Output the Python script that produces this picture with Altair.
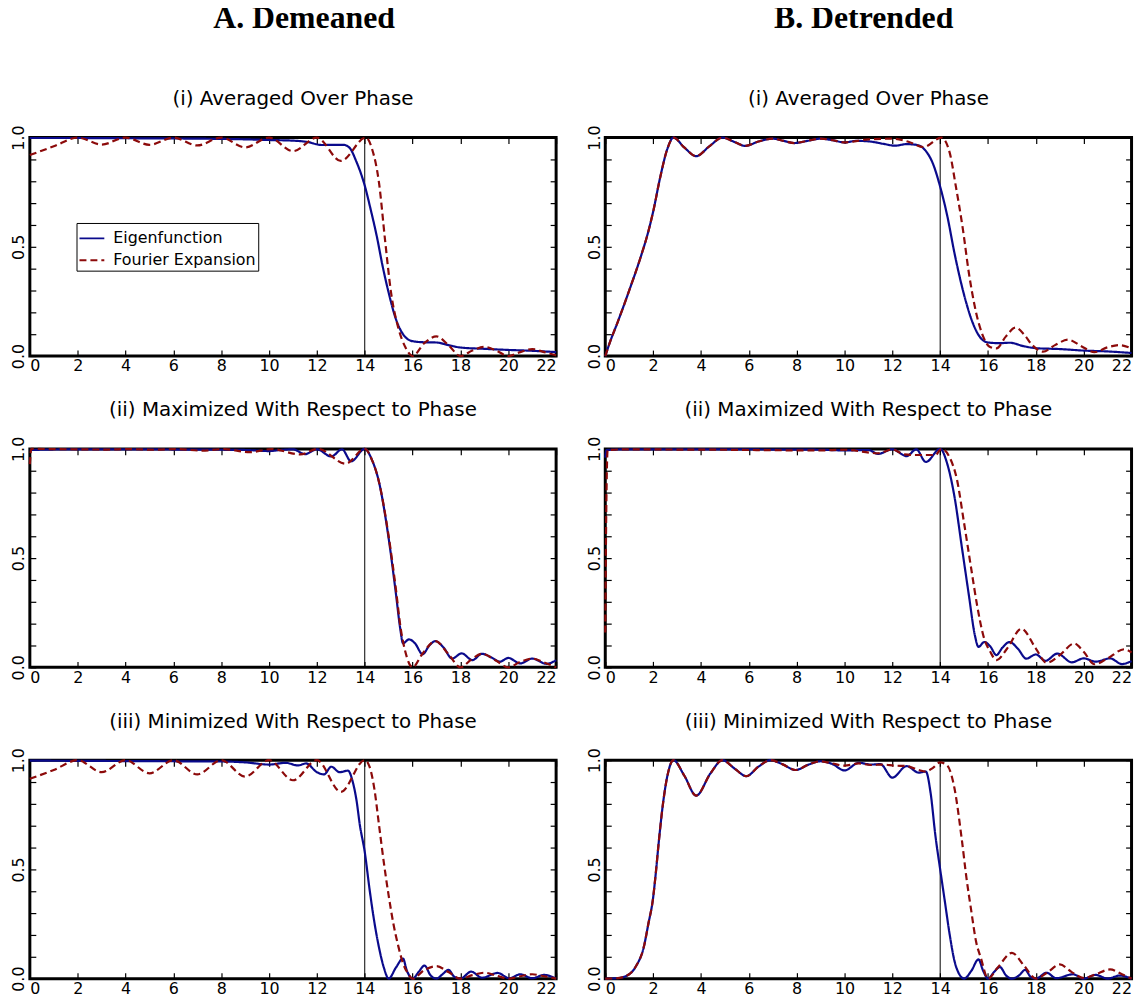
import altair as alt
import pandas as pd

# ---------------- data ----------------
SERIES = ["Eigenfunction", "Fourier Expansion"]
COLORS = ["#0a0a8c", "#8c0a0a"]
DASHES = [[1, 0], [7, 4]]
X_TICKS = list(range(0, 23, 2))
Y_LABELS = [0.0, 0.5, 1.0]
Y_TICKS = [0.0, 0.1, 0.2, 0.3, 0.4, 0.5, 0.6, 0.7, 0.8, 0.9, 1.0]
VLINE = [14]
COL_TITLES = ["A. Demeaned", "B. Detrended"]
ROW_TITLES = ["(i) Averaged Over Phase",
              "(ii) Maximized With Respect to Phase",
              "(iii) Minimized With Respect to Phase"]

# A (i)
A1_eig_x = [0, 2, 4, 6, 8, 9, 10, 11, 11.6, 12.2, 12.7, 13.1, 13.35, 13.65, 14, 14.25, 14.5, 14.75, 15, 15.3, 15.6, 16, 16.5, 17, 17.5, 18, 19, 20, 21, 22]
A1_eig_y = [0.998, 0.998, 0.997, 0.996, 0.994, 0.992, 0.989, 0.986, 0.98, 0.966, 0.967, 0.967, 0.955, 0.89, 0.78, 0.67, 0.55, 0.41, 0.29, 0.17, 0.10, 0.068, 0.063, 0.062, 0.05, 0.039, 0.033, 0.028, 0.024, 0.018]
A1_fou_x = [0, 1, 2, 3, 4, 5, 6, 7, 8, 9, 10, 11, 12, 13, 14.05, 14.3, 14.6, 14.85, 15.1, 15.4, 15.7, 16, 16.5, 17, 17.5, 18, 18.5, 19, 19.5, 20, 20.5, 21, 21.5, 22]
A1_fou_y = [0.92, 0.96, 1.0, 0.968, 1.0, 0.967, 1.0, 0.964, 1.0, 0.955, 1.0, 0.938, 1.0, 0.893, 1.0, 0.95, 0.79, 0.53, 0.29, 0.13, 0.04, 0.0, 0.06, 0.09, 0.05, 0.0, 0.025, 0.042, 0.025, 0.0, 0.018, 0.032, 0.018, 0.003]

# A (ii)
A2_eig_x = [0, 2, 4, 6, 8, 9, 10, 10.5, 11, 11.5, 12, 12.6, 13.05, 13.43, 14, 14.3, 14.57, 15.0, 15.3, 15.48, 15.6, 15.85, 16.1, 16.42, 16.7, 16.95, 17.3, 17.65, 18.05, 18.5, 18.9, 19.3, 19.65, 20.0, 20.5, 21.0, 21.6, 22]
A2_eig_y = [0.995, 0.998, 0.998, 0.997, 0.996, 0.995, 0.99, 0.995, 0.998, 0.976, 0.998, 0.965, 0.998, 0.943, 1.0, 0.95, 0.86, 0.59, 0.34, 0.18, 0.11, 0.128, 0.11, 0.06, 0.10, 0.12, 0.09, 0.04, 0.064, 0.033, 0.062, 0.045, 0.026, 0.043, 0.018, 0.04, 0.016, 0.033]
A2_fou_x = [0, 0.06, 1, 3.2, 4.1, 5.2, 6.1, 7.2, 8.1, 9.2, 10.1, 11.3, 12.05, 13.2, 14, 14.3, 14.57, 15.0, 15.3, 15.5, 15.7, 16, 16.4, 16.95, 17.5, 18, 18.45, 18.9, 19.5, 20, 20.5, 21.0, 21.5, 22]
A2_fou_y = [0.93, 1.0, 0.999, 0.997, 0.999, 0.996, 0.999, 0.992, 0.999, 0.985, 0.999, 0.975, 1.0, 0.932, 1.0, 0.95, 0.86, 0.6, 0.36, 0.18, 0.07, 0.0, 0.06, 0.12, 0.06, 0.0, 0.035, 0.062, 0.03, 0.0, 0.025, 0.04, 0.022, 0.0]

# A (iii)
A3_eig_x = [0, 2, 4, 6, 8, 9, 10, 10.7, 11.2, 11.55, 12.0, 12.3, 12.6, 12.95, 13.3, 13.5, 13.65, 13.8, 14.0, 14.2, 14.4, 14.6, 14.8, 15.0, 15.3, 15.6, 15.75, 16.0, 16.25, 16.5, 16.75, 17.0, 17.25, 17.5, 17.75, 18.0, 18.45, 18.9, 19.55, 20.05, 20.5, 21.0, 21.5, 22]
A3_eig_y = [0.998, 0.997, 0.996, 0.995, 0.994, 0.99, 0.98, 0.988, 0.976, 0.985, 0.945, 0.935, 0.97, 0.945, 0.952, 0.9, 0.82, 0.7, 0.58, 0.41, 0.26, 0.14, 0.05, 0.0, 0.05, 0.092, 0.04, 0.0, 0.03, 0.06, 0.015, 0.0, 0.02, 0.04, 0.008, 0.0, 0.032, 0.004, 0.026, 0.002, 0.02, 0.002, 0.017, 0.0]
A3_fou_x = [0, 1, 2, 3, 4, 5, 6, 7, 8, 9, 10, 11, 12, 13, 14.0, 14.2, 14.4, 14.6, 14.8, 15.0, 15.2, 15.4, 15.6, 15.8, 16, 16.5, 17, 17.5, 18, 18.5, 19, 19.5, 20, 20.5, 21, 21.5, 22]
A3_fou_y = [0.915, 0.955, 1.0, 0.945, 1.0, 0.94, 1.0, 0.935, 1.0, 0.925, 1.0, 0.908, 1.0, 0.855, 1.0, 0.97, 0.87, 0.7, 0.53, 0.38, 0.25, 0.15, 0.07, 0.025, 0.0, 0.04, 0.057, 0.03, 0.0, 0.016, 0.027, 0.014, 0.0, 0.011, 0.02, 0.011, 0.0]

# B (i)
B1_eig_x = [0, 0.2, 0.5, 1.0, 1.5, 1.8, 2.0, 2.3, 2.6, 2.85, 3.3, 3.8, 4.35, 4.9, 5.4, 5.85, 6.4, 7.0, 7.45, 7.9, 8.45, 9.0, 9.5, 10.0, 10.5, 11.0, 11.6, 12.1, 12.6, 13.0, 13.35, 13.7, 14.0, 14.3, 14.6, 15.0, 15.3, 15.6, 16.0, 16.5, 16.9, 17.5, 18.0, 19.0, 20.0, 21.0, 22.0]
B1_eig_y = [0.0, 0.065, 0.15, 0.3, 0.46, 0.57, 0.66, 0.82, 0.95, 1.0, 0.955, 0.915, 0.96, 1.0, 0.98, 0.962, 0.982, 0.995, 0.985, 0.975, 0.985, 0.995, 0.988, 0.978, 0.985, 0.983, 0.972, 0.963, 0.97, 0.967, 0.945, 0.88, 0.775, 0.64, 0.47, 0.28, 0.17, 0.097, 0.062, 0.059, 0.061, 0.045, 0.036, 0.032, 0.025, 0.021, 0.014]
B1_fou_x = [0, 0.2, 0.5, 1.0, 1.5, 1.8, 2.0, 2.3, 2.6, 2.85, 3.3, 3.8, 4.35, 4.9, 5.4, 5.85, 6.4, 7.0, 7.45, 7.9, 8.45, 9.0, 9.5, 10.0, 11.0, 12.0, 12.7, 13.3, 14.05, 14.4, 14.65, 14.95, 15.2, 15.5, 15.77, 16.05, 16.35, 16.75, 17.15, 17.5, 17.85, 18.3, 18.8, 19.35, 19.9, 20.45, 21.0, 21.5, 22.0]
B1_fou_y = [0.0, 0.065, 0.15, 0.3, 0.46, 0.57, 0.66, 0.82, 0.95, 1.0, 0.955, 0.915, 0.96, 1.0, 0.98, 0.962, 0.982, 0.995, 0.985, 0.975, 0.985, 0.995, 0.988, 0.978, 0.992, 0.995, 0.98, 0.957, 1.0, 0.93, 0.78, 0.58, 0.38, 0.2, 0.097, 0.044, 0.035, 0.09, 0.13, 0.1, 0.05, 0.02, 0.05, 0.075, 0.045, 0.018, 0.04, 0.05, 0.035]

# B (ii)
B2_eig_x = [0, 0.05, 1, 3, 5, 7, 9, 10, 11, 11.4, 12, 12.6, 13.0, 13.4, 14.0, 14.3, 14.6, 14.9, 15.2, 15.45, 15.6, 15.85, 16.1, 16.35, 16.6, 16.9, 17.25, 17.6, 18.0, 18.4, 18.9, 19.5, 20.0, 20.5, 21.1, 21.6, 22]
B2_eig_y = [0.96, 0.995, 0.998, 0.998, 0.998, 0.997, 0.996, 0.993, 0.995, 0.977, 0.998, 0.967, 0.998, 0.94, 1.0, 0.93, 0.78, 0.555, 0.33, 0.147, 0.094, 0.116, 0.095, 0.056, 0.09, 0.116, 0.085, 0.04, 0.059, 0.03, 0.063, 0.023, 0.041, 0.026, 0.041, 0.015, 0.029]
B2_fou_x = [0, 0.04, 0.1, 1, 3, 5, 7, 9, 10, 11.4, 12.0, 12.5, 13.0, 13.8, 14.05, 14.4, 14.7, 15.0, 15.3, 15.55, 15.8, 16.1, 16.35, 16.8, 17.4, 18.0, 18.45, 19.0, 19.6, 20.0, 20.45, 21.0, 21.7, 22]
B2_fou_y = [0.16, 0.7, 0.995, 0.998, 0.997, 0.996, 0.994, 0.993, 0.996, 0.98, 0.997, 0.975, 0.972, 0.972, 1.0, 0.96, 0.86, 0.66, 0.45, 0.28, 0.147, 0.07, 0.033, 0.086, 0.177, 0.086, 0.021, 0.056, 0.109, 0.071, 0.014, 0.041, 0.083, 0.068]

# B (iii)
B3_eig_x = [0, 0.5, 1.0, 1.3, 1.6, 1.8, 2.0, 2.1, 2.25, 2.4, 2.6, 2.85, 3.3, 3.8, 4.4, 4.9, 5.4, 5.9, 6.4, 6.9, 7.4, 7.95, 8.5, 9.0, 9.5, 10.0, 10.6, 11.1, 11.5, 12.0, 12.6, 13.1, 13.4, 13.6, 13.8, 14.0, 14.2, 14.4, 14.6, 14.8, 15.0, 15.3, 15.6, 15.8, 16.0, 16.25, 16.5, 16.75, 17.0, 17.3, 17.55, 17.8, 18.0, 18.45, 18.85, 19.55, 20.0, 20.5, 21.0, 21.5, 22.0]
B3_eig_y = [0.0, 0.002, 0.02, 0.06, 0.14, 0.25, 0.37, 0.47, 0.64, 0.79, 0.93, 1.0, 0.93, 0.838, 0.94, 1.0, 0.962, 0.927, 0.97, 1.0, 0.982, 0.955, 0.98, 0.995, 0.982, 0.953, 0.988, 0.98, 0.982, 0.92, 0.973, 0.943, 0.948, 0.85, 0.655, 0.5, 0.35, 0.2, 0.08, 0.02, 0.0, 0.035, 0.088, 0.035, 0.0, 0.03, 0.053, 0.015, 0.0, 0.015, 0.04, 0.006, 0.0, 0.027, 0.002, 0.02, 0.0, 0.017, 0.0, 0.014, 0.0]
B3_fou_x = [0, 0.5, 1.0, 1.3, 1.6, 1.8, 2.0, 2.1, 2.25, 2.4, 2.6, 2.85, 3.3, 3.8, 4.4, 4.9, 5.4, 5.9, 6.4, 6.9, 7.4, 7.95, 8.5, 9.0, 9.5, 10.0, 10.6, 11.1, 11.6, 12.1, 12.6, 13.1, 13.4, 13.7, 14.0, 14.3, 14.6, 14.9, 15.1, 15.3, 15.5, 15.7, 16.0, 16.4, 17.0, 17.5, 18.0, 18.5, 19.0, 19.5, 20.0, 20.5, 21.1, 21.6, 22.0]
B3_fou_y = [0.0, 0.002, 0.02, 0.06, 0.14, 0.25, 0.37, 0.47, 0.64, 0.79, 0.93, 1.0, 0.93, 0.838, 0.94, 1.0, 0.962, 0.927, 0.97, 1.0, 0.982, 0.955, 0.98, 0.995, 0.985, 0.975, 0.985, 0.978, 0.98, 0.975, 0.973, 0.955, 0.948, 0.965, 0.99, 0.975, 0.87, 0.64, 0.46, 0.31, 0.17, 0.095, 0.0, 0.05, 0.118, 0.06, 0.0, 0.03, 0.065, 0.03, 0.003, 0.02, 0.042, 0.02, 0.0]

PANELS = [
    [(A1_eig_x, A1_eig_y, A1_fou_x, A1_fou_y),
     (A2_eig_x, A2_eig_y, A2_fou_x, A2_fou_y),
     (A3_eig_x, A3_eig_y, A3_fou_x, A3_fou_y)],
    [(B1_eig_x, B1_eig_y, B1_fou_x, B1_fou_y),
     (B2_eig_x, B2_eig_y, B2_fou_x, B2_fou_y),
     (B3_eig_x, B3_eig_y, B3_fou_x, B3_fou_y)],
]

# ---------------- chart ----------------
W, H = 530, 220
FONT = "DejaVu Sans"
SERIF = "Liberation Serif"
HEADER_DX = [19, 3]

LEGEND = alt.Legend(
    title=None, orient="none", legendX=47, legendY=86,
    symbolType="stroke", symbolSize=625, symbolStrokeWidth=2,
    labelFont=FONT, labelFontSize=16, labelColor="black", labelOffset=8,
    labelLimit=400, rowPadding=-9, padding=2,
    strokeColor="black", fillColor="white",
)

xsc = alt.Scale(domain=[0, 22], nice=False, zero=False)
ysc = alt.Scale(domain=[0, 1], nice=False, zero=False)


def tick_axis(orient, values):
    return alt.Axis(orient=orient, values=values, labels=False, ticks=True,
                    tickSize=6, offset=-6, tickWidth=1.2, tickColor="black",
                    domain=False, grid=False, title=None,
                    minExtent=0, maxExtent=0)


def panel(ex, ey, fx, fy, title):
    eig = pd.DataFrame({"x": ex, "y": ey, "series": SERIES[0]})
    fou = pd.DataFrame({"x": fx, "y": fy, "series": SERIES[1]})
    color = alt.Color("series:N", scale=alt.Scale(domain=SERIES, range=COLORS), legend=LEGEND)
    dash = alt.StrokeDash("series:N", scale=alt.Scale(domain=SERIES, range=DASHES), legend=LEGEND)

    rule = alt.Chart(pd.DataFrame({"x": VLINE})).mark_rule(
        color="black", strokeWidth=1).encode(x=alt.X("x:Q", scale=xsc, axis=None))

    blue = alt.Chart(eig).mark_line(strokeWidth=2.2, interpolate="monotone").encode(
        x=alt.X("x:Q", scale=xsc, axis=alt.Axis(
            orient="bottom", values=X_TICKS, format="d", ticks=False, domain=False,
            grid=False, title=None, labelFont=FONT, labelFontSize=16,
            labelColor="black", labelPadding=2, labelFlush=True)),
        y=alt.Y("y:Q", scale=ysc, axis=alt.Axis(
            orient="left", values=Y_LABELS, format=".1f", ticks=False, domain=False,
            grid=False, title=None, labelAngle=270, labelAlign="center",
            labelBaseline="bottom", labelFont=FONT, labelFontSize=16,
            labelColor="black", labelPadding=3, minExtent=20, maxExtent=20)),
        color=color, strokeDash=dash)

    red = alt.Chart(fou).mark_line(strokeWidth=2.2, interpolate="monotone").encode(
        x=alt.X("x:Q", scale=xsc, axis=tick_axis("bottom", X_TICKS)),
        y=alt.Y("y:Q", scale=ysc, axis=tick_axis("left", Y_TICKS)),
        color=color, strokeDash=dash)

    ghost = alt.Chart(eig).mark_line(strokeOpacity=0).encode(
        x=alt.X("x:Q", scale=xsc, axis=tick_axis("top", X_TICKS)),
        y=alt.Y("y:Q", scale=ysc, axis=tick_axis("right", Y_TICKS)))

    return alt.layer(rule, blue, red, ghost).resolve_axis(
        x="independent", y="independent").properties(
        width=W, height=H,
        title=alt.TitleParams(title, font=FONT, fontSize=20, fontWeight="normal",
                              color="black", anchor="middle", frame="group",
                              baseline="alphabetic", offset=0))


columns = []
for ci, col in enumerate(PANELS):
    panels = [panel(*col[ri], ROW_TITLES[ri]) for ri in range(3)]
    columns.append(alt.vconcat(*panels, spacing=22.5, title=alt.TitleParams(
        COL_TITLES[ci], font=SERIF, fontSize=32, fontWeight="bold", color="black",
        anchor="middle", baseline="alphabetic", offset=28, dx=HEADER_DX[ci])))

chart = alt.hconcat(*columns, spacing=21.5).properties(
    padding={"left": 0, "top": -10, "right": 0, "bottom": -3},
    background="white",
).configure_view(stroke="black", strokeWidth=3)

chart.save("out.html", embed_options={"renderer": "svg", "actions": False})
